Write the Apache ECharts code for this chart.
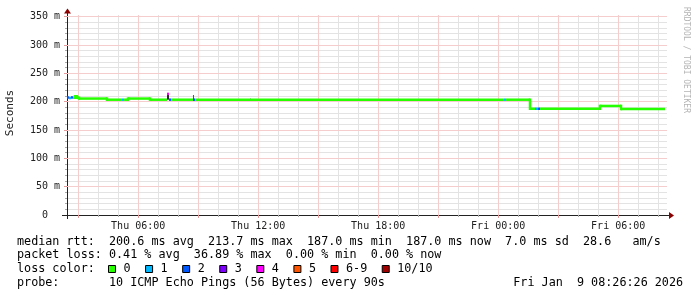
<!DOCTYPE html>
<html><head><meta charset="utf-8">
<script src="https://cdn.jsdelivr.net/npm/echarts@6/dist/echarts.min.js"></script>
<style>html,body{margin:0;padding:0;background:#fff}#c{width:697px;height:297px}</style>
</head><body><div id="c"></div>
<script>
// ---- time range (hours since Thu 00:00) ----
const startH = 2.4406;
const endH = 32.4406;

// ---- tick / label arrays ----
const xMinorHours = [3,4,5,6,7,8,9,10,11,12,13,14,15,16,17,18,19,20,21,22,23,24,25,26,27,28,29,30,31,32];
const xMajorHours = [3,6,9,12,15,18,21,24,27,30];
const xLabelHours = [6,12,18,24,30];
const xLabelText = ['Thu 06:00','Thu 12:00','Thu 18:00','Fri 00:00','Fri 06:00'];
const yMinorTicks = [10,20,30,40,60,70,80,90,110,120,130,140,160,170,180,190,210,220,230,240,260,270,280,290,310,320,330,340];
const yMajorTicks = [50,100,150,200,250,300,350];
const yLabelTicks = [0,50,100,150,200,250,300,350];
const yMax = 353;

// ---- median rtt (ms), step segments: start hour, value, loss count ----
const medStart = [2.44, 2.54, 2.64, 2.74, 2.84, 2.94, 3.04, 4.44, 5.19, 5.29, 5.49, 6.59, 7.44, 7.54, 7.64, 8.74, 8.84, 24.29, 24.39, 25.59, 25.84, 25.99, 26.09, 29.09, 30.14];
const medValue = [207.5, 206.5, 207.5, 207.0, 209.5, 207.0, 205.5, 203.5, 203.5, 203.5, 205.5, 203.5, 213.7, 203.5, 203.5, 203.5, 203.5, 203.5, 203.5, 187.5, 187.5, 187.5, 187.5, 192.5, 187.0];
const medLoss  = [2, 1, 2, 0, 0, 0, 0, 0, 1, 0, 0, 0, 4, 2, 0, 2, 0, 1, 0, 0, 1, 2, 0, 0, 0];
const medEnd = 32.34;

// ---- smoke (ping spread) : start hour, end hour, low, high ----
const smokeStart = [7.44, 8.74, 11.59, 25.55];
const smokeEnd   = [7.54, 8.79, 11.64, 25.62];
const smokeLow   = [203.5, 203.5, 203.5, 188.0];
const smokeHigh  = [213.0, 212.0, 205.5, 203.5];
const smokeColor = ['#2a2a2a', '#555555', '#777777', '#333333'];

// ---- legend ----
const lossLabels = ['0','1','2','3','4','5','6-9','10/10'];
const lossColors = ['#26ff00','#00b8ff','#0059ff','#7e00ff','#ff00ff','#ff5500','#ff0000','#a10000'];
const statLine1 = 'median rtt:  200.6 ms avg  213.7 ms max  187.0 ms min  187.0 ms now  7.0 ms sd  28.6   am/s';
const statLine2 = 'packet loss: 0.41 % avg  36.89 % max  0.00 % min  0.00 % now';
const statLine3 = 'loss color:';
const statLine4 = 'probe:       10 ICMP Echo Pings (56 Bytes) every 90s';
const stampText = 'Fri Jan  9 08:26:26 2026';

function lossIdx(n){ if (n <= 5) return n; if (n < 10) return 6; return 7; }

const medianData = medStart.map((s, i) => [
  s, i < medStart.length - 1 ? medStart[i+1] : medEnd, medValue[i], medLoss[i],
  (i > 0 && lossIdx(medLoss[i-1]) === lossIdx(medLoss[i]) && medValue[i-1] !== medValue[i]) ? medValue[i-1] : -1
]);
const smokeData = smokeStart.map((s, i) => [s, smokeEnd[i], smokeLow[i], smokeHigh[i], i]);

const MONO = '"DejaVu Sans Mono", monospace';
const CW = 7.08;

const graphics = [];
graphics.push({type:'text', x:10.5, y:113, rotation:Math.PI/2,
  style:{text:'Seconds', font:'11px ' + MONO, fill:'#222', align:'center', verticalAlign:'middle'}});
graphics.push({type:'text', x:686.5, y:60, rotation:-Math.PI/2,
  style:{text:'RRDTOOL / TOBI OETIKER', font:'8px ' + MONO, fill:'#b4b4b4', align:'center', verticalAlign:'middle'}});
graphics.push({type:'line', shape:{x1:67.5, y1:10, x2:67.5, y2:16}, style:{stroke:'#222', lineWidth:1}});
graphics.push({type:'polygon', shape:{points:[[64,13.5],[71,13.5],[67.5,8.5]]}, style:{fill:'#8b0000'}});
graphics.push({type:'line', shape:{x1:62, y1:215.5, x2:669, y2:215.5}, style:{stroke:'#222', lineWidth:1}});
graphics.push({type:'line', shape:{x1:67.5, y1:215, x2:67.5, y2:219}, style:{stroke:'#222', lineWidth:1}});
graphics.push({type:'polygon', shape:{points:[[669,212],[669,219],[674,215.5]]}, style:{fill:'#8b0000'}});
const lineY = [241.5, 255.3, 269, 282.7];
[statLine1, statLine2, statLine3, statLine4].forEach((t, i) => {
  graphics.push({type:'text', x:17, y:lineY[i], style:{text:t, font:'11.75px ' + MONO, fill:'#000', verticalAlign:'middle'}});
});
graphics.push({type:'text', x:513.3, y:lineY[3], style:{text:stampText, font:'11.75px ' + MONO, fill:'#000', verticalAlign:'middle'}});
let bx = 108.5;
lossLabels.forEach((lab, i) => {
  graphics.push({type:'rect', shape:{x:bx, y:265.5, width:7, height:7}, style:{fill:lossColors[i], stroke:'#000', lineWidth:1}});
  graphics.push({type:'text', x:bx + 15, y:lineY[2], style:{text:lab, font:'11.75px ' + MONO, fill:'#000', verticalAlign:'middle'}});
  bx += 15 + lab.length * CW + 15;
});

const axisFont = {fontFamily:'DejaVu Sans Mono', fontSize:10, color:'#222'};
const minorGrid = {show:true, lineStyle:{color:'#e3e3e3', type:'solid', width:1}};
const majorGrid = {show:true, lineStyle:{color:'#f5cdcd', type:'solid', width:1}};

const option = {
  animation:false,
  backgroundColor:'#ffffff',
  grid:{left:67, top:15, width:600, height:200, containLabel:false},
  xAxis:[
    {type:'value', min:startH, max:endH, position:'bottom', z:0,
     axisLine:{show:true, lineStyle:{color:'#222', width:1}},
     axisTick:{show:true, customValues:xMinorHours, length:2, lineStyle:{color:'#aaa'}},
     axisLabel:{show:false},
     splitLine:minorGrid},
    {type:'value', min:startH, max:endH, position:'bottom', z:2,
     axisLine:{show:false},
     axisTick:{show:true, customValues:xMajorHours, length:3, lineStyle:{color:'#e49a9a'}},
     axisLabel:{show:false},
     splitLine:majorGrid},
    {type:'value', min:startH, max:endH, position:'bottom', z:2,
     axisLine:{show:false}, axisTick:{show:false}, splitLine:{show:false},
     axisLabel:Object.assign({show:true, customValues:xLabelHours, margin:6,
       formatter:v => { const k = xLabelHours.indexOf(Math.round(v)); return k >= 0 ? xLabelText[k] : ''; }}, axisFont)}
  ],
  yAxis:[
    {type:'value', min:0, max:yMax, position:'left', z:0,
     axisLine:{show:true, lineStyle:{color:'#222', width:1}},
     axisTick:{show:true, customValues:yMinorTicks, length:2, lineStyle:{color:'#aaa'}},
     axisLabel:Object.assign({show:true, customValues:yLabelTicks, margin:7,
       formatter:v => v === 0 ? '0  ' : (Math.round(v) + ' m')}, axisFont),
     splitLine:minorGrid},
    {type:'value', min:0, max:yMax, position:'left', z:2,
     axisLine:{show:false},
     axisTick:{show:true, customValues:yMajorTicks, length:3, lineStyle:{color:'#e49a9a'}},
     axisLabel:{show:false},
     splitLine:majorGrid}
  ],
  series:[
    {type:'custom', name:'smoke', xAxisIndex:0, yAxisIndex:0, clip:true, z:3,
     data:smokeData,
     encode:{x:[0,1], y:[2,3]},
     renderItem:(params, api) => {
       const a = api.coord([api.value(0), api.value(3)]);
       const b = api.coord([api.value(1), api.value(2)]);
       return {type:'rect', shape:{x:a[0], y:a[1], width:Math.max(1, b[0]-a[0]), height:b[1]-a[1]},
         style:{fill:smokeColor[api.value(4)]}};
     }},
    {type:'custom', name:'median', xAxisIndex:0, yAxisIndex:0, clip:true, z:4,
     data:medianData,
     encode:{x:[0,1], y:2},
     renderItem:(params, api) => {
       const s = api.coord([api.value(0), api.value(2)]);
       const e = api.coord([api.value(1), api.value(2)]);
       const col = lossColors[lossIdx(api.value(3))];
       const lw = 2.5;
       const ch = [{type:'rect', shape:{x:s[0], y:s[1]-lw/2, width:e[0]-s[0], height:lw}, style:{fill:col}}];
       const pv = api.value(4);
       if (pv >= 0) {
         const p = api.coord([api.value(0), pv]);
         ch.push({type:'rect', shape:{x:s[0]-lw/2, y:Math.min(p[1], s[1])-lw/2, width:lw, height:Math.abs(p[1]-s[1])+lw}, style:{fill:col}});
       }
       return {type:'group', children:ch};
     }}
  ],
  graphic:graphics
};

const chart = echarts.init(document.getElementById('c'), null, {renderer:'canvas'});
chart.setOption(option);
</script>
</body></html>
